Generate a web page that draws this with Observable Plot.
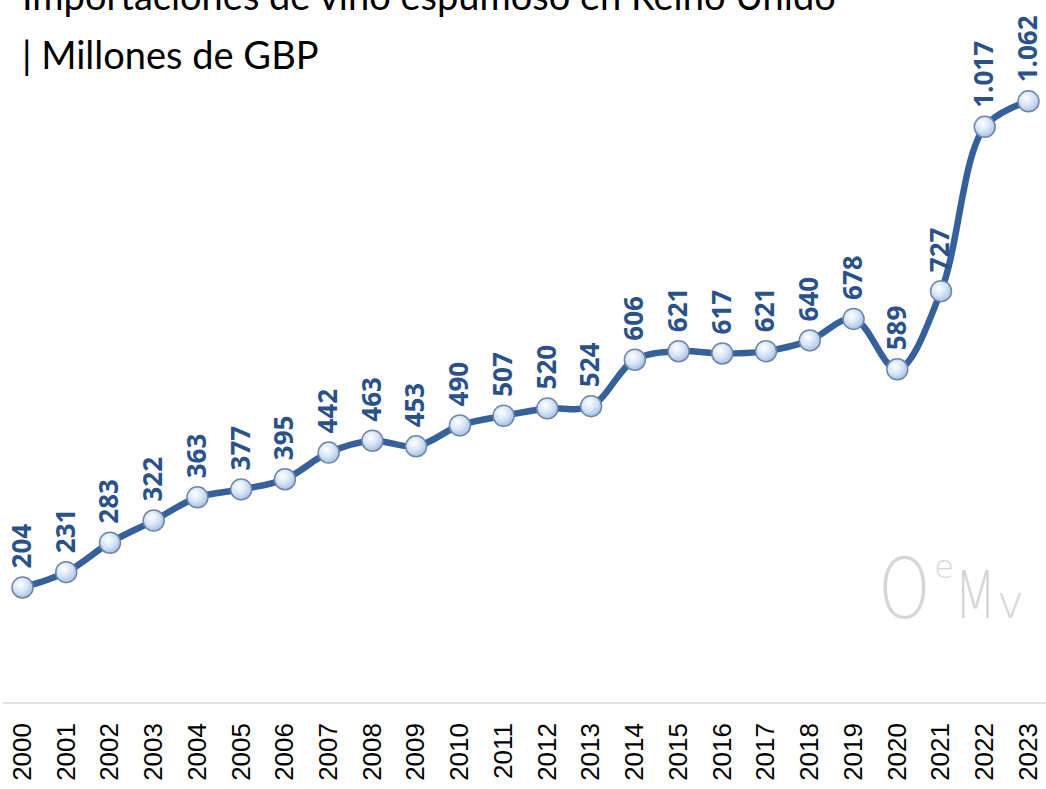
<!DOCTYPE html>
<html>
<head>
<meta charset="utf-8">
<script src="https://cdn.jsdelivr.net/npm/d3@7"></script>
<script src="https://cdn.jsdelivr.net/npm/@observablehq/plot@0.6"></script>
<style>
  html, body { margin: 0; padding: 0; background: #fff; }
  #wrap { position: relative; width: 1046px; height: 789px; overflow: hidden; }
  .title { position: absolute; left: 22px; font-family: Lato, "Open Sans", sans-serif; font-size: 38px; color: #000; white-space: nowrap; }
  #logo { position: absolute; left: 878px; top: 540px; font-family: "DejaVu Sans", sans-serif; font-weight: 200; color: #d6d6d6; white-space: nowrap; }
</style>
</head>
<body>
<svg width="0" height="0" style="position:absolute">
  <defs>
    <radialGradient id="dotGrad" cx="40%" cy="35%" r="65%">
      <stop offset="0%" stop-color="#ffffff"/>
      <stop offset="55%" stop-color="#d6e4f6"/>
      <stop offset="100%" stop-color="#a9c2e3"/>
    </radialGradient>
  </defs>
</svg>
<div id="wrap">
  <div id="chart"></div>
  <div class="title" style="top:-28px">Importaciones de vino espumoso en Reino Unido</div>
  <div class="title" style="top:31px">| Millones de GBP</div>
  <div id="logo"><span style="font-size:84px;display:inline-block;transform:scaleX(0.8);transform-origin:left">O</span><span style="font-size:32px;vertical-align:40px;margin-left:-10px">e</span><span style="font-size:66px;display:inline-block;transform:scaleX(0.75);transform-origin:left">M</span><span style="font-size:46px;margin-left:-14px">v</span></div>
</div>
<script>
const years = ["2000","2001","2002","2003","2004","2005","2006","2007","2008","2009","2010","2011","2012","2013","2014","2015","2016","2017","2018","2019","2020","2021","2022","2023"];
const values = [204,231,283,322,363,377,395,442,463,453,490,507,520,524,606,621,617,621,640,678,589,727,1017,1062];

const data = years.map((y, i) => ({year: y, value: values[i]}));
const fmt = v => d3.format(",")(v).replace(/,/g, ".");

const chart = Plot.plot({
  width: 1046,
  height: 789,
  marginTop: 0,
  marginLeft: 22,
  marginRight: 18,
  marginBottom: 86.5,
  style: {fontFamily: "'Liberation Sans', Arial, sans-serif", fontSize: "26px", color: "#000"},
  x: {type: "point", domain: years, padding: 0, round: false, tickRotate: -90, tickSize: 0, tickPadding: 20, label: null},
  y: {domain: [0, 1240], axis: null},
  marks: [
    Plot.ruleY([0], {stroke: "#d9d9d9", strokeWidth: 1.5, insetLeft: -20, insetRight: -18}),
    Plot.line(data, {x: "year", y: "value", curve: "catmull-rom", stroke: "#36609a", strokeWidth: 6.5}),
    Plot.dot(data, {x: "year", y: "value", r: 10.5, fill: "url(#dotGrad)", stroke: "#6f86a8", strokeWidth: 1.5}),
    Plot.text(data, {x: "year", y: "value", text: d => fmt(d.value), rotate: -90, textAnchor: "start", lineAnchor: "middle", dy: -19, fill: "#2a5288", fontWeight: "bold", fontSize: 26, fontFamily: "'Open Sans', sans-serif"})
  ]
});
document.getElementById("chart").appendChild(chart);
</script>
</body>
</html>
